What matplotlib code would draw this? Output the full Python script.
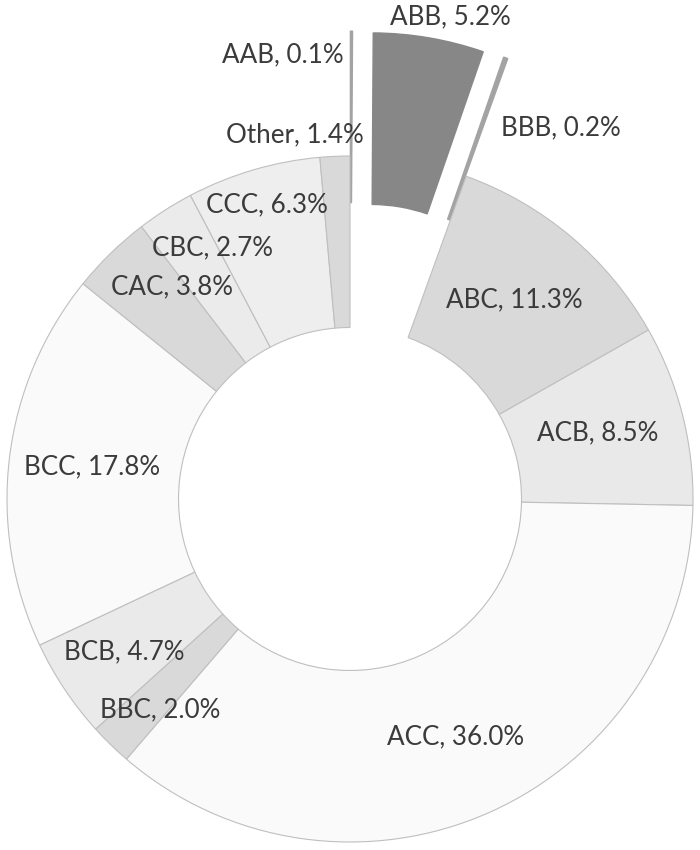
import matplotlib
matplotlib.use("Agg")
import matplotlib.pyplot as plt

# ---- data ----
categories = ["AAB", "ABB", "BBB", "ABC", "ACB", "ACC", "BBC", "BCB",
              "BCC", "CAC", "CBC", "CCC", "Other"]
values = [0.1, 5.2, 0.2, 11.3, 8.5, 36.0, 2.0, 4.7, 17.8, 3.8, 2.7, 6.3, 1.4]
explode_flags = [1, 1, 1, 0, 0, 0, 0, 0, 0, 0, 0, 0, 0]

# ---- styles / layout ----
colors = ["#a3a3a3", "#878787", "#a3a3a3", "#d9d9d9", "#e9e9e9", "#fafafa",
          "#d9d9d9", "#eaeaea", "#fafafa", "#d9d9d9", "#ebebeb", "#eeeeee",
          "#d9d9d9"]
# label centres in figure pixels (x, y from top)
label_pos = [(283, 55), (450, 17), (561, 128), (514, 300), (598, 433),
             (456, 737), (160, 710), (124, 652), (92, 467), (172, 287),
             (213, 248), (267, 205), (295, 135)]

W, H = 700, 850
CX, CY, R = 350, 499, 343

plt.rcParams['font.family'] = ['Lato', 'DejaVu Sans']
fig = plt.figure(figsize=(W / 100, H / 100), dpi=100)
fig.patch.set_facecolor("white")
ax = fig.add_axes([0, 0, 1, 1])

explode = [0.364 * f for f in explode_flags]
wedges, _ = ax.pie(values, explode=explode, colors=colors, startangle=90,
                   counterclock=False, radius=1.0,
                   wedgeprops=dict(width=0.5, edgecolor="#bfbfbf", linewidth=0.8))
for w, f, c in zip(wedges, explode_flags, colors):
    if f:
        w.set_edgecolor(c)
        w.set_linewidth(1.0)

ax.set_xlim((0 - CX) / R, (W - CX) / R)
ax.set_ylim((CY - H) / R, (CY - 0) / R)
ax.set_aspect("auto")
ax.axis("off")

for cat, v, (px, py) in zip(categories, values, label_pos):
    fig.text(px / W, 1 - py / H, f"{cat}, {v:.1f}%", ha="center", va="center",
             fontsize=18.7, color="#3b3b3b")

fig.savefig("out.png", dpi=100, facecolor="white")
